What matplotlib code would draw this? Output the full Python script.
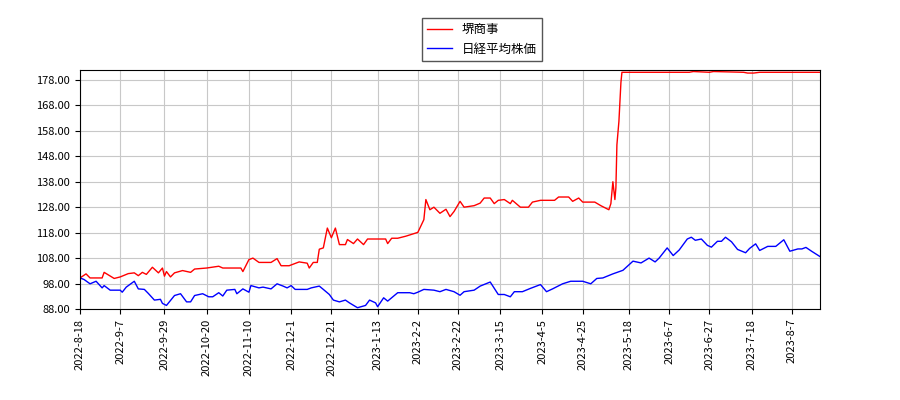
import matplotlib
matplotlib.use("Agg")
import matplotlib.pyplot as plt
import datetime as dt

plt.rcParams['font.family'] = ['Noto Sans CJK JP', 'DejaVu Sans']

start = dt.date(2022, 8, 18)
# day offsets from 2022-08-18 and values
red_days = [0,3,5,11,12,17,20,24,27,29,31,33,36,39,41,42,43,45,47,51,55,57,63,69,71,80,81,84,86,89,95,98,100,104,109,113,114,116,118,119,121,123,125,127,129,132,133,136,138,141,143,152,153,155,158,162,168,171,172,174,176,179,182,184,186,189,191,196,199,201,204,206,208,211,214,215,219,223,225,229,236,238,243,245,248,250,256,259,263,264,265,266,266.5,267,268,269,269.5,303,305,313,315,330,332,335,338,368]
red_vals = [100.2,101.8,100.2,100.2,102.4,100,100.6,101.9,102.2,101.1,102.4,101.6,104.4,102.2,104.1,100.9,102.7,100.6,102.2,103.1,102.4,103.7,104.1,104.8,104.1,104.1,102.7,107.4,108,106.3,106.3,107.8,105,105,106.5,106,104.1,106.3,106.3,111.5,112,119.8,116,119.8,113.3,113.3,115.3,113.7,115.5,113.3,115.5,115.5,113.7,115.8,115.8,116.6,118.1,123.1,131,127,128,125.6,127.2,124.3,126.3,130.3,128,128.6,129.6,131.6,131.6,129.4,130.7,131,129.4,130.7,128,128,130,130.7,130.7,132,132,130.3,131.6,130,130,128.6,127,129.4,138,131,135.6,152.5,161.7,177,181,181,181.3,181,181.3,181,180.7,180.7,181,181]
blue_days = [0,2,5,8,11,12,15,20,21,23,27,29,32,34,37,40,41,43,47,50,53,55,57,61,64,66,69,71,73,77,78,81,84,85,89,91,95,98,101,103,105,107,113,115,119,121,124,126,129,132,134,138,142,144,147,148,151,153,158,164,166,168,171,176,179,182,186,189,191,196,199,204,208,211,214,216,220,224,229,232,235,240,244,250,254,257,260,265,270,275,279,283,286,288,292,295,298,302,304,306,309,312,314,317,319,321,324,327,331,333,336,338,342,346,350,353,357,359,361,364,368]
blue_vals = [100.2,99.6,97.9,98.9,96.3,97.2,95.4,95.4,94.6,96.6,98.9,95.9,95.7,94.1,91.5,91.8,90.2,89.4,93.3,94,90.8,90.8,93.3,94,92.8,92.8,94.4,93.1,95.4,95.7,94,95.9,94.6,97.2,96.3,96.6,95.9,97.9,97,96.3,97.2,95.7,95.7,96.3,97,95.7,93.7,91.5,90.8,91.5,90.4,88.5,89.4,91.5,90.4,88.9,92.4,91.1,94.4,94.4,94,94.6,95.7,95.4,94.8,95.7,94.8,93.4,94.8,95.4,97,98.6,93.7,93.7,92.8,94.8,94.8,96.1,97.6,94.8,95.9,97.9,98.9,98.9,97.9,100,100.2,101.8,103.2,106.8,106.1,108,106.5,108,112,109,111.2,115.5,116.2,115,115.5,113,112.3,114.6,114.6,116.2,114.4,111.4,110.1,111.8,113.6,111,112.6,112.6,115.2,110.7,111.6,111.6,112.2,110.6,108.6]

tick_dates = ["2022-8-18","2022-9-7","2022-9-29","2022-10-20","2022-11-10","2022-12-1","2022-12-21","2023-1-13","2023-2-2","2023-2-22","2023-3-15","2023-4-5","2023-4-25","2023-5-18","2023-6-7","2023-6-27","2023-7-18","2023-8-7"]
y_ticks = [88, 98, 108, 118, 128, 138, 148, 158, 168, 178]

def to_date(d):
    return dt.datetime.combine(start, dt.time()) + dt.timedelta(days=d)

rx = [to_date(d) for d in red_days]
bx = [to_date(d) for d in blue_days]

fig = plt.figure(figsize=(9, 4), dpi=100)
ax = fig.add_axes([80/900, 1-309/400, 740/900, 239/400])
ax.plot(rx, red_vals, color='red', lw=1, label='堺商事')
ax.plot(bx, blue_vals, color='blue', lw=1, label='日経平均株価')
ax.set_xlim(to_date(0), to_date(368))
ax.set_ylim(88, 181.9)
tds = [dt.datetime.strptime(s, "%Y-%m-%d") for s in tick_dates]
ax.set_xticks(tds)
ax.set_xticklabels(tick_dates, rotation=90, fontsize=8)
ax.set_yticks(y_ticks)
ax.set_yticklabels([f"{v:.2f}" for v in y_ticks], fontsize=8)
ax.grid(True, color='#c8c8c8', lw=0.8)
ax.set_axisbelow(True)
fig.legend(loc='upper center', bbox_to_anchor=(482/900, 1-12/400), fontsize=9,
           fancybox=False, edgecolor='#555555', framealpha=1)
fig.savefig("out.png", dpi=100)
